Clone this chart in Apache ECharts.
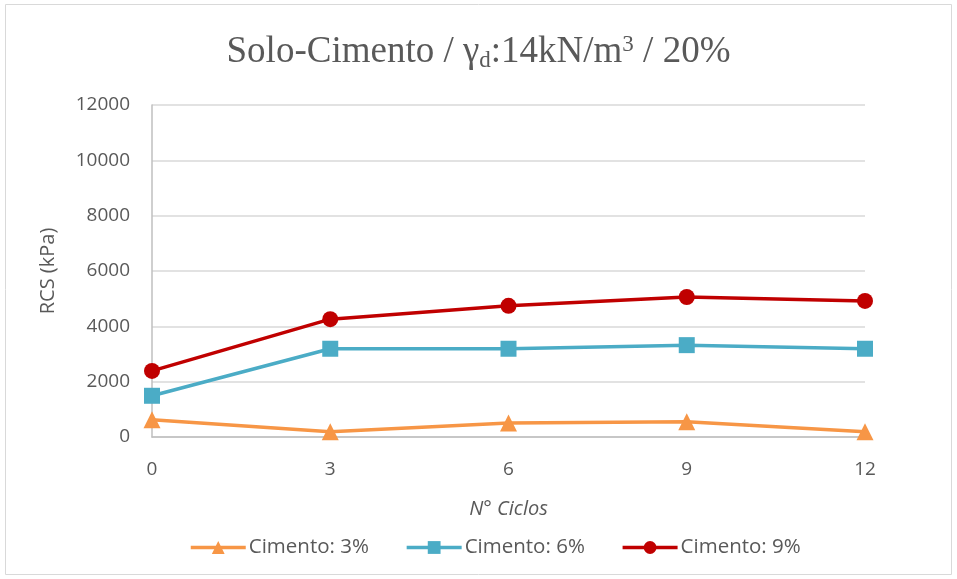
<!DOCTYPE html>
<html>
<head>
<meta charset="utf-8">
<script src="https://cdn.jsdelivr.net/npm/echarts@6/dist/echarts.min.js"></script>
<style>
  html, body { margin: 0; padding: 0; background: #fff; }
  #chart { width: 957px; height: 579px; }
</style>
</head>
<body>
<div id="chart"></div>
<script>
  // dados
  var ciclos = [0, 3, 6, 9, 12]
  var cimento3 = [620, 190, 510, 550, 190]
  var cimento6 = [1490, 3190, 3190, 3320, 3190]
  var cimento9 = [2390, 4260, 4740, 5060, 4920]
  var yTicks = [0, 2000, 4000, 6000, 8000, 10000, 12000]

  var chart = echarts.init(document.getElementById('chart'))

  function pares (vals) {
    return ciclos.map(function (c, i) { return [c, vals[i]] })
  }

  var cinza = '#595959'

  chart.setOption({
    animation: false,
    graphic: [{
      type: 'rect',
      shape: { x: 5.5, y: 4.5, width: 946, height: 570 },
      style: { fill: 'none', stroke: '#d9d9d9', lineWidth: 1 }
    }],
    title: {
      text: '{a|Solo-Cimento / γ}{sub|d}{a|:14kN/m}{sup|3}{a| / 20%}',
      left: 'center',
      top: 27,
      textStyle: {
        fontWeight: 'normal',
        rich: {
          a: { fontFamily: 'Liberation Serif', fontSize: 37, fontWeight: 'normal', color: cinza },
          sub: { fontFamily: 'Liberation Serif', fontSize: 23, fontWeight: 'normal', color: cinza, padding: [17, 0, 0, 0] },
          sup: { fontFamily: 'Liberation Serif', fontSize: 23, fontWeight: 'normal', color: cinza, padding: [0, 0, 15, 0] }
        }
      }
    },
    legend: {
      top: 532,
      left: 184,
      itemWidth: 55,
      itemHeight: 16,
      itemGap: 36,
      lineStyle: { width: 3.5 },
      textStyle: { fontFamily: 'Open Sans', fontSize: 20.5, color: cinza, padding: [0, 0, 0, -2] },
      data: ['Cimento: 3%', 'Cimento: 6%', 'Cimento: 9%']
    },
    grid: { left: 152, right: 92, top: 105, bottom: 142 },
    xAxis: {
      type: 'value',
      min: 0,
      max: 12,
      interval: 3,
      name: 'N° Ciclos',
      nameLocation: 'middle',
      nameGap: 62,
      nameTextStyle: { fontFamily: 'Open Sans', fontSize: 20, fontStyle: 'italic', color: cinza },
      axisLine: { lineStyle: { color: '#bfbfbf', width: 1.5 } },
      axisTick: { show: false },
      axisLabel: { fontFamily: 'Open Sans', fontSize: 19, color: cinza, margin: 23 },
      splitLine: { show: false }
    },
    yAxis: {
      type: 'value',
      min: yTicks[0],
      max: yTicks[yTicks.length - 1],
      interval: 2000,
      name: 'RCS (kPa)',
      nameLocation: 'middle',
      nameGap: 94,
      nameTextStyle: { fontFamily: 'Open Sans', fontSize: 20, color: cinza },
      axisLine: { show: true, lineStyle: { color: '#bfbfbf', width: 1.5 } },
      axisTick: { show: false },
      axisLabel: {
        fontFamily: 'Open Sans', fontSize: 19, color: cinza, margin: 22,
        formatter: function (v) { return String(v) }
      },
      splitLine: { lineStyle: { color: '#d9d9d9', width: 1.5 } }
    },
    series: [
      {
        name: 'Cimento: 3%',
        type: 'line',
        symbol: 'triangle',
        symbolSize: 17,
        data: pares(cimento3),
        lineStyle: { color: '#F79646', width: 3.5 },
        itemStyle: { color: '#F79646' }
      },
      {
        name: 'Cimento: 6%',
        type: 'line',
        symbol: 'rect',
        symbolSize: 16,
        data: pares(cimento6),
        lineStyle: { color: '#4BACC6', width: 3.5 },
        itemStyle: { color: '#4BACC6' }
      },
      {
        name: 'Cimento: 9%',
        type: 'line',
        symbol: 'circle',
        symbolSize: 16,
        data: pares(cimento9),
        lineStyle: { color: '#C00000', width: 3.5 },
        itemStyle: { color: '#C00000' }
      }
    ]
  })
</script>
</body>
</html>
